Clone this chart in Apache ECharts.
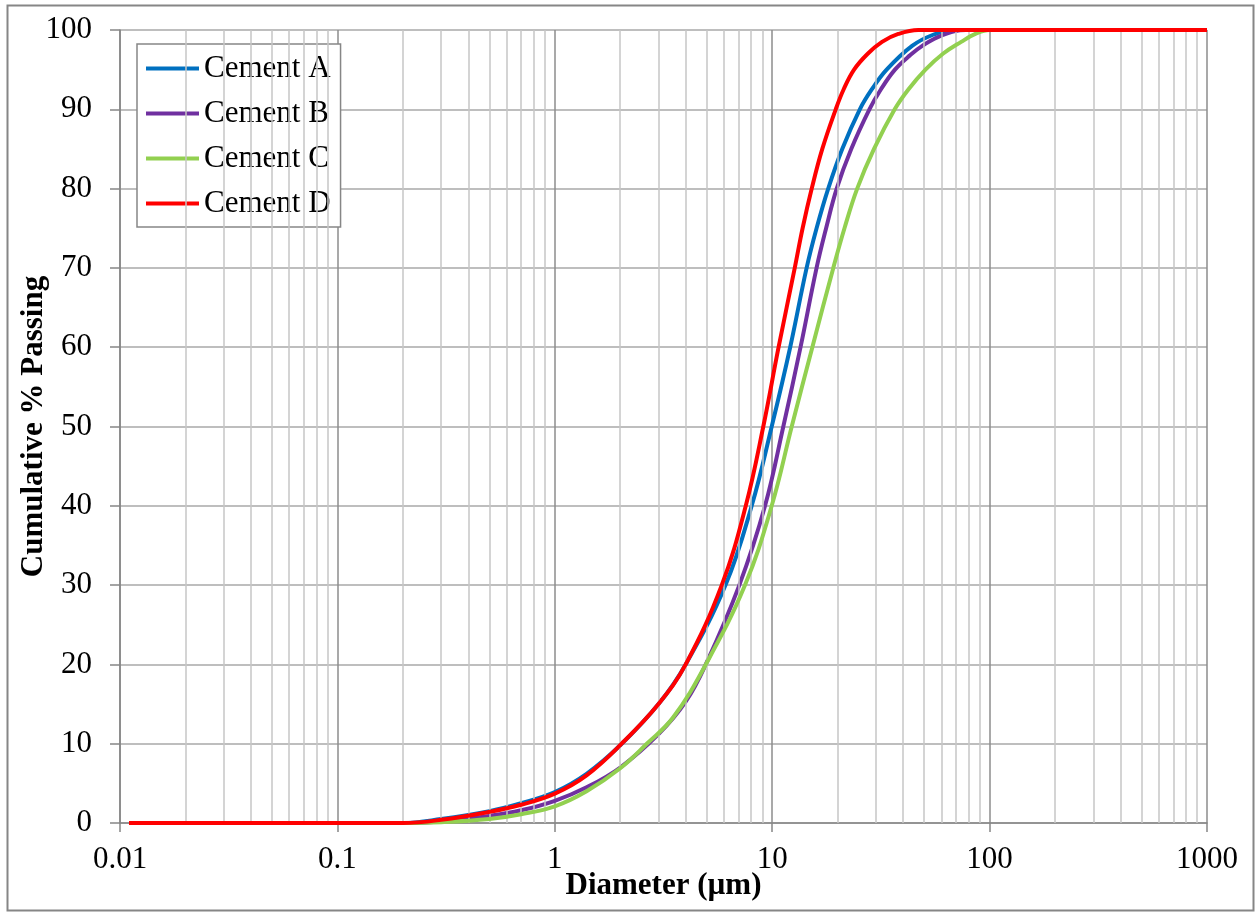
<!DOCTYPE html>
<html>
<head>
<meta charset="utf-8">
<script src="https://cdn.jsdelivr.net/npm/echarts@6/dist/echarts.min.js"></script>
<style>
  html, body { margin: 0; padding: 0; background: #fff; }
  #chart { width: 1255px; height: 912px; }
</style>
</head>
<body>
<div id="chart"></div>
<script>
// Particle size distributions: diameter (µm) and cumulative % passing
const cementA_d = [0.011, 0.2, 0.3, 0.5, 0.7, 1, 1.4, 2.0, 3.0, 4.0, 6.1, 8.05, 9.95, 12.1, 14.4, 16.0, 18.1, 21.0, 25.3, 28.7, 33.6, 44, 55, 68, 1000];
const cementA_p = [0, 0, 0.5, 1.5, 2.5, 3.9, 6.2, 9.8, 15.0, 20.0, 30, 40, 50, 60, 70, 75, 80, 85, 90, 92.5, 95, 98.0, 99.4, 100, 100];

const cementB_d = [0.011, 0.2, 0.3, 0.5, 0.7, 1, 1.4, 2.0, 3.0, 4.0, 4.95, 7.06, 9.27, 11.25, 13.5, 16.0, 17.7, 19.8, 23.1, 28, 31.6, 36.7, 43, 49, 60, 78, 1000];
const cementB_p = [0, 0, 0.2, 0.9, 1.6, 2.8, 4.5, 7.0, 11.2, 15.3, 20, 30, 40, 50, 60, 70, 75, 80, 85, 90, 92.5, 95, 96.8, 98.0, 99.3, 100, 100];

const cementC_d = [0.011, 0.2, 0.3, 0.5, 0.7, 1, 1.4, 2.0, 2.65, 3.5, 4.95, 7.5, 9.95, 12.3, 15.3, 19.1, 21.5, 24.6, 29.4, 36.6, 42.3, 50.7, 61, 74, 86, 100, 1000];
const cementC_p = [0, 0, 0.1, 0.5, 1.1, 2.1, 4.0, 6.9, 10, 13.3, 20, 30, 40, 50, 60, 70, 75, 80, 85, 90, 92.5, 95, 97, 98.5, 99.5, 100, 100];

const cementD_d = [0.011, 0.2, 0.3, 0.5, 0.7, 1, 1.4, 2.03, 3.0, 4.0, 5.86, 7.56, 9.1, 10.7, 12.7, 13.8, 15.2, 17.0, 19.6, 21.3, 23.8, 27.5, 32, 38, 47, 1000];
const cementD_p = [0, 0, 0.4, 1.4, 2.3, 3.7, 6.0, 10, 15, 20, 30, 40, 50, 60, 70, 75, 80, 85, 90, 92.5, 95, 97, 98.5, 99.5, 100, 100];

const seriesNames = ['Cement A', 'Cement B', 'Cement C', 'Cement D'];
const seriesColors = ['#0070C0', '#7030A0', '#92D050', '#FF0000'];
const seriesDiam = [cementA_d, cementB_d, cementC_d, cementD_d];
const seriesPass = [cementA_p, cementB_p, cementC_p, cementD_p];

const FONT = "'Liberation Serif', 'Times New Roman', serif";

// Minor log gridlines (2..9 within each decade)
const minorLines = [];
for (let e = -2; e < 3; e++) {
  for (let m = 2; m <= 9; m++) {
    minorLines.push({ xAxis: +(m * Math.pow(10, e)).toPrecision(6) });
  }
}

const chart = echarts.init(document.getElementById('chart'), null, { renderer: 'canvas' });

const curveSeries = seriesNames.map((name, i) => ({
  name: name,
  type: 'line',
  data: seriesDiam[i].map((d, k) => [d, seriesPass[i][k]]),
  smooth: 0.4,
  symbol: 'none',
  showSymbol: false,
  z: 3 + i,
  color: seriesColors[i],
  lineStyle: { color: seriesColors[i], width: 4 },
  emphasis: { disabled: true }
}));

const option = {
  animation: false,
  backgroundColor: '#ffffff',
  graphic: [{
    type: 'rect',
    silent: true,
    shape: { x: 7.5, y: 5.5, width: 1246, height: 905 },
    style: { fill: 'none', stroke: '#868686', lineWidth: 2 }
  }],
  grid: { left: 120, right: 48, top: 30, bottom: 89, containLabel: false, outerBoundsMode: 'none' },
  legend: {
    data: seriesNames.map((n, i) => ({ name: n, icon: 'rect', itemStyle: { color: seriesColors[i] } })),
    orient: 'vertical',
    left: 137,
    top: 44,
    padding: [9, 10, 8, 9],
    itemGap: 14,
    itemWidth: 53,
    itemHeight: 4,
    backgroundColor: '#ffffff',
    borderColor: '#868686',
    borderWidth: 1.5,
    borderRadius: 0,
    selectedMode: false,
    textStyle: { fontFamily: FONT, fontSize: 31, color: '#000', lineHeight: 31 }
  },
  xAxis: {
    type: 'log',
    logBase: 10,
    min: 0.01,
    max: 1000,
    name: 'Diameter (µm)',
    nameLocation: 'middle',
    nameGap: 47,
    nameMoveOverlap: false,
    nameTextStyle: { fontFamily: FONT, fontSize: 31, fontWeight: 'bold', color: '#000' },
    axisLine: { show: true, lineStyle: { color: '#868686', width: 1.5 } },
    axisTick: { show: true, inside: false, length: 9, lineStyle: { color: '#868686', width: 1.5 } },
    axisLabel: {
      margin: 21,
      fontFamily: FONT, fontSize: 31, color: '#000',
      formatter: v => String(+(+v).toPrecision(6))
    },
    splitLine: { show: true, lineStyle: { color: '#8c8c8c', width: 1.5 } },
    minorTick: { show: false },
    minorSplitLine: { show: false }
  },
  yAxis: {
    type: 'value',
    min: 0,
    max: 100,
    interval: 10,
    name: 'Cumulative % Passing',
    nameLocation: 'middle',
    nameGap: 71,
    nameMoveOverlap: false,
    nameRotate: 90,
    nameTextStyle: { fontFamily: FONT, fontSize: 31, fontWeight: 'bold', color: '#000' },
    axisLine: { show: true, lineStyle: { color: '#868686', width: 1.5 } },
    axisTick: { show: true, inside: false, length: 10, lineStyle: { color: '#868686', width: 1.5 } },
    axisLabel: { margin: 28, fontFamily: FONT, fontSize: 31, color: '#000' },
    splitLine: { show: true, lineStyle: { color: '#a8a8a8', width: 1.5 } }
  },
  series: [{
    name: 'minor-grid',
    type: 'line',
    data: [],
    z: 1,
    silent: true,
    markLine: {
      silent: true,
      animation: false,
      symbol: ['none', 'none'],
      label: { show: false },
      emphasis: { disabled: true },
      lineStyle: { color: '#c6c6c6', width: 1.5, type: 'solid' },
      data: minorLines
    }
  }].concat(curveSeries)
};

chart.setOption(option);
</script>
</body>
</html>
